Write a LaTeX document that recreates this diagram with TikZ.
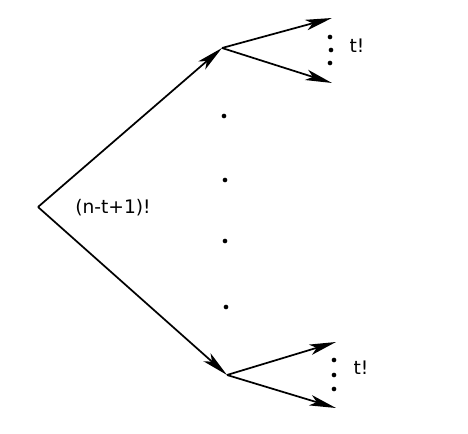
\documentclass[tikz,border=0pt]{standalone}
\usepackage{fontspec}
\setmainfont{DejaVu Sans}
\usetikzlibrary{arrows.meta}
\begin{document}
\begin{tikzpicture}[x=0.75pt,y=-0.75pt,
  edge/.style={line width=1.3pt,-{Stealth[length=20pt,width=8pt,inset=5pt]}},
  dot/.style={circle,fill=black,inner sep=0pt,minimum size=3.5pt},
  lbl/.style={font=\fontsize{14}{16}\selectfont,inner sep=0pt}]
\useasboundingbox (0,0) rectangle (468,434);
\coordinate (r) at (38,207);
\coordinate (u) at (222,48);
\coordinate (l) at (227,375);
\coordinate (u1) at (332,18);
\coordinate (u2) at (332,83);
\coordinate (l1) at (336,342);
\coordinate (l2) at (336,408);
\draw[edge] (r) -- (u);
\draw[edge] (r) -- (l);
\draw[edge] (u) -- (u1);
\draw[edge] (u) -- (u2);
\draw[edge] (l) -- (l1);
\draw[edge] (l) -- (l2);
\node[dot] (m1) at (224,116) {};
\node[dot] (m2) at (225,180) {};
\node[dot] (m3) at (225,241) {};
\node[dot] (m4) at (226,307) {};
\node[dot] (a1) at (330,37) {};
\node[dot] (a2) at (331,50) {};
\node[dot] (a3) at (330,63) {};
\node[dot] (b1) at (334,360) {};
\node[dot] (b2) at (334,375) {};
\node[dot] (b3) at (334,389) {};
\node[lbl] (ft) at (113,208) {(n-t+1)!};
\node[lbl] (tu) at (357,46) {t!};
\node[lbl] (tl) at (361,368) {t!};
\end{tikzpicture}
\end{document}
